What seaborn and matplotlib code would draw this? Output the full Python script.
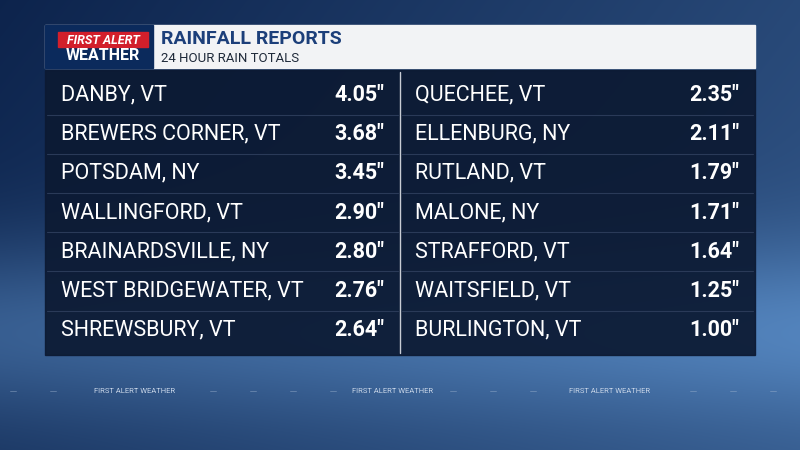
import numpy as np
import matplotlib.pyplot as plt
import seaborn as sns
from matplotlib.patches import Rectangle

# === Datos ===
left_places = ["DANBY, VT", "BREWERS CORNER, VT", "POTSDAM, NY", "WALLINGFORD, VT",
               "BRAINARDSVILLE, NY", "WEST BRIDGEWATER, VT", "SHREWSBURY, VT"]
left_totals = [4.05, 3.68, 3.45, 2.90, 2.80, 2.76, 2.64]
right_places = ["QUECHEE, VT", "ELLENBURG, NY", "RUTLAND, VT", "MALONE, NY",
                "STRAFFORD, VT", "WAITSFIELD, VT", "BURLINGTON, VT"]
right_totals = [2.35, 2.11, 1.79, 1.71, 1.64, 1.25, 1.00]

sns.set_theme(style="white")
plt.rcParams['font.family'] = ['Roboto', 'DejaVu Sans']

fig = plt.figure(figsize=(8, 4.5), dpi=100)
ax = fig.add_axes([0, 0, 1, 1])
ax.set_xlim(0, 800)
ax.set_ylim(450, 0)
ax.axis("off")

# === Fondo degradado azul ===
yy, xx = np.mgrid[0:450, 0:800]
g = np.clip(0.35 * (xx / 800) + 0.45 * np.exp(-((yy - 330) / 90.0) ** 2) + 0.15 * (yy / 450), 0, 1)
dark = np.array([0.05, 0.14, 0.30])
light = np.array([0.35, 0.55, 0.78])
bg = dark + (light - dark) * g[..., None]
ax.imshow(bg, extent=(0, 800, 450, 0), aspect="auto", zorder=0)

# === Cabecera ===
ax.add_patch(Rectangle((45, 25), 710, 43, color="#f2f3f5", zorder=1))
ax.add_patch(Rectangle((45, 25), 108, 43, color="#0b2a5c", zorder=2))
ax.add_patch(Rectangle((58, 32), 90, 15, color="#d21f2b", zorder=3))
ax.text(103, 40, "FIRST ALERT", color="white", fontsize=9, fontweight="bold",
        ha="center", va="center", zorder=4, style="italic")
ax.text(103, 55.5, "WEATHER", color="white", fontsize=11.5, fontweight="bold",
        ha="center", va="center", zorder=4)
ax.text(161, 39, "RAINFALL REPORTS", color="#1c3f7a", fontsize=14, fontweight="bold",
        ha="left", va="center", zorder=4)
ax.text(161, 58, "24 HOUR RAIN TOTALS", color="#1f2a3a", fontsize=9.5,
        ha="left", va="center", zorder=4)

# === Tabla ===
ax.add_patch(Rectangle((45, 70), 710, 285, color="#0c1a33", alpha=0.93, zorder=1))
ax.plot([400, 400], [72, 353], color="#c8ccd4", lw=1, zorder=2)
row_y = 95 + 39.2 * np.arange(len(left_places))
for y in row_y[:-1]:
    mid = y + 19.6
    ax.plot([47, 398], [mid, mid], color="#2a3a58", lw=0.8, zorder=2)
    ax.plot([402, 753], [mid, mid], color="#2a3a58", lw=0.8, zorder=2)

for y, p, v in zip(row_y, left_places, left_totals):
    ax.text(61, y, p, color="white", fontsize=15.5, ha="left", va="center", zorder=3)
    ax.text(384, y, f'{v:.2f}"', color="white", fontsize=15.5, fontweight="bold",
            ha="right", va="center", zorder=3)
for y, p, v in zip(row_y, right_places, right_totals):
    ax.text(415, y, p, color="white", fontsize=15.5, ha="left", va="center", zorder=3)
    ax.text(739, y, f'{v:.2f}"', color="white", fontsize=15.5, fontweight="bold",
            ha="right", va="center", zorder=3)

# === Ticker inferior ===
labels_x = [135, 393, 610]
for x in labels_x:
    ax.text(x, 391, "FIRST ALERT WEATHER", color="#c9d6e8", fontsize=5.5,
            ha="center", va="center", zorder=3)
for x in np.arange(10, 800, 40):
    if min(abs(x + 3 - lx) for lx in labels_x) > 55:
        ax.plot([x, x + 6], [391, 391], color="#9fb4d0", lw=0.6, alpha=0.5, zorder=2)

fig.savefig("out.png", dpi=100)
